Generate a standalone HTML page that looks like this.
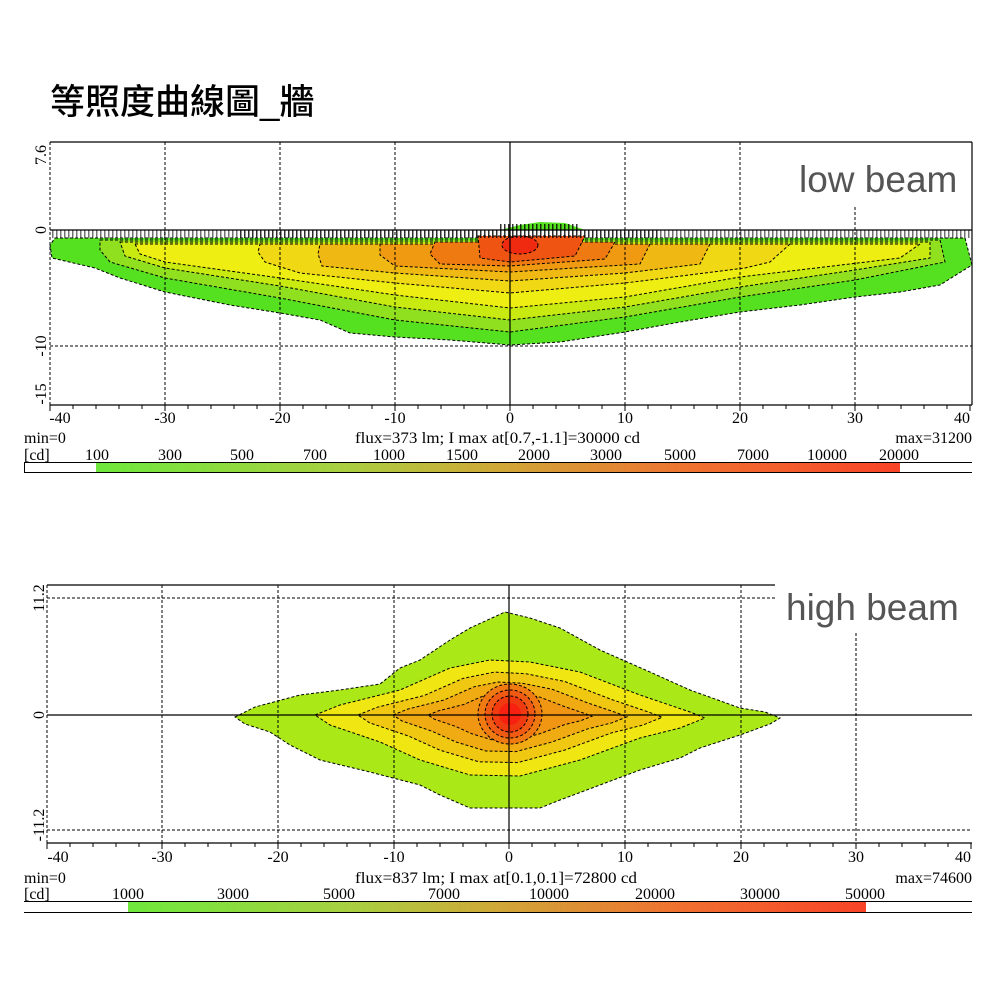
<!DOCTYPE html>
<html><head><meta charset="utf-8"><style>
html,body{margin:0;padding:0;background:#fff;width:1000px;height:1000px;overflow:hidden}
svg{display:block}
.t{font-family:"Liberation Serif",serif;font-size:16px;fill:#000}
.c{stroke:#000;stroke-width:1;stroke-dasharray:3,2;fill-rule:nonzero}
</style></head><body>
<svg width="1000" height="1000" viewBox="0 0 1000 1000" xmlns="http://www.w3.org/2000/svg">
<defs>
<linearGradient id="g1" x1="0" x2="1" y1="0" y2="0">
<stop offset="0" stop-color="#6ee83c"/><stop offset="0.3" stop-color="#a8d040"/><stop offset="0.5" stop-color="#d0a838"/><stop offset="0.75" stop-color="#f07030"/><stop offset="1" stop-color="#f84428"/>
</linearGradient>
<pattern id="hatch" width="4" height="8" patternUnits="userSpaceOnUse"><rect x="0" y="0" width="1.5" height="8" fill="#000"/></pattern>
</defs>

<text x="50" y="114" style="font-family:'Liberation Sans','Noto Sans CJK TC',sans-serif;font-size:35px;font-weight:500">等照度曲線圖_牆</text>

<!-- ===== TOP CHART ===== -->
<g>
<path class="c" fill="#55e020" d="M55,238 L965,238 L972,265 L940,285 L900,292 L855,297 L800,305 L740,312 L680,322 L625,332 L560,342 L510,345 L450,340 L395,337 L350,333 L320,320 L280,313 L230,305 L165,292 L120,278 L95,268 L52,258 L50,245 Z"/>
<path class="c" fill="#90e020" d="M100,240 L940,240 L945,262 L855,280 L740,297 L625,317 L510,332 L395,320 L280,298 L165,278 L110,262 L100,250 Z"/>
<path class="c" fill="#c8ea10" d="M120,242 L930,242 L930,258 L855,270 L740,287 L625,307 L510,320 L395,307 L280,286 L165,268 L125,256 Z"/>
<path class="c" fill="#eeee12" d="M135,244 L920,244 L900,258 L740,277 L625,297 L510,308 L395,295 L280,278 L165,262 L140,254 Z"/>
<path class="c" fill="#f0d814" d="M260,244 L790,244 L770,262 L745,268 L625,283 L510,293 L395,283 L300,273 L265,262 L258,252 Z"/>
<path class="c" fill="#f0b812" d="M320,244 L710,244 L700,264 L625,273 L510,281 L395,273 L322,266 L318,254 Z"/>
<path class="c" fill="#f09a12" d="M380,244 L650,244 L640,264 L510,272 L395,266 L380,255 Z"/>
<path class="c" fill="#f07a12" d="M435,242 L615,242 L605,259 L510,266 L440,264 L430,254 Z"/>
<path class="c" fill="#f05412" d="M478,236 L585,236 L575,256 L510,262 L480,258 Z"/>
<ellipse class="c" fill="#f02a10" cx="520" cy="245" rx="18" ry="9"/>
<path fill="#55e020" d="M500,230 L520,225 L540,222 L565,223 L585,230 Z"/>
<rect x="52" y="230" width="918" height="8" fill="url(#hatch)" opacity="0.55"/>
<rect x="240" y="230" width="420" height="8" fill="url(#hatch)" opacity="0.6"/>
<rect x="500" y="224" width="80" height="7" fill="url(#hatch)" opacity="0.8"/>
</g>
<g stroke="#000" stroke-width="1" stroke-dasharray="3,2" fill="none">
<line x1="165" y1="142" x2="165" y2="405"/><line x1="280" y1="142" x2="280" y2="405"/><line x1="395" y1="142" x2="395" y2="405"/>
<line x1="625" y1="142" x2="625" y2="405"/><line x1="740" y1="142" x2="740" y2="405"/><line x1="855" y1="207" x2="855" y2="405"/>
<line x1="50" y1="346" x2="972" y2="346"/>
<line x1="50" y1="142" x2="50" y2="405"/>
</g>
<g stroke="#000" stroke-width="1.2" fill="none">
<line x1="50" y1="142" x2="972" y2="142"/>
<line x1="972" y1="142" x2="972" y2="405"/>
<line x1="50" y1="230" x2="972" y2="230"/>
<line x1="510" y1="142" x2="510" y2="405"/>
<line x1="50" y1="405" x2="972" y2="405"/>
</g>
<g stroke="#000" stroke-width="1">
<path d="M50,405v6M73,405v4M96,405v4M119,405v4M142,405v4M165,405v6M188,405v4M211,405v4M234,405v4M257,405v4M280,405v6M303,405v4M326,405v4M349,405v4M372,405v4M395,405v6M418,405v4M441,405v4M464,405v4M487,405v4M510,405v6M533,405v4M556,405v4M579,405v4M602,405v4M625,405v6M648,405v4M671,405v4M694,405v4M717,405v4M740,405v6M763,405v4M786,405v4M809,405v4M832,405v4M855,405v6M878,405v4M901,405v4M924,405v4M947,405v4M970,405v6"/>
</g>
<text x="799" y="192" style="font-family:'Liberation Sans',sans-serif;font-size:37px;fill:#555">low beam</text>
<g class="t" text-anchor="middle">
<text x="60" y="423">-40</text><text x="165" y="423">-30</text><text x="280" y="423">-20</text><text x="395" y="423">-10</text>
<text x="510" y="423">0</text><text x="625" y="423">10</text><text x="740" y="423">20</text><text x="855" y="423">30</text><text x="962" y="423">40</text>
</g>
<g class="t" text-anchor="middle">
<text transform="translate(46,155) rotate(-90)">7.6</text>
<text transform="translate(46,230) rotate(-90)">0</text>
<text transform="translate(46,346) rotate(-90)">-10</text>
<text transform="translate(46,394) rotate(-90)">-15</text>
</g>
<text class="t" x="24" y="443">min=0</text>
<text class="t" x="355" y="443" textLength="285" lengthAdjust="spacingAndGlyphs">flux=373 lm; I max at[0.7,-1.1]=30000 cd</text>
<text class="t" x="972" y="443" text-anchor="end">max=31200</text>
<text class="t" x="24" y="460">[cd]</text>
<g class="t" text-anchor="middle">
<text x="97" y="460">100</text><text x="170" y="460">300</text><text x="242" y="460">500</text><text x="315" y="460">700</text>
<text x="389" y="460">1000</text><text x="462" y="460">1500</text><text x="534" y="460">2000</text><text x="606" y="460">3000</text>
<text x="680" y="460">5000</text><text x="753" y="460">7000</text><text x="827" y="460">10000</text><text x="899" y="460">20000</text>
</g>
<rect x="96" y="463" width="804" height="9" fill="url(#g1)"/>
<path d="M24,462.5H972M24,472.5H972M24.5,462V473" stroke="#000" fill="none"/>

<!-- ===== BOTTOM CHART ===== -->
<g>
<path class="c" fill="#aae818" d="M235,717 L255,707 L300,695 L340,690 L380,684 L400,668 L420,660 L450,640 L470,628 L505,612 L530,618 L560,628 L600,650 L650,672 L690,690 L740,708 L765,712 L780,718 L770,724 L740,735 L700,748 L680,758 L640,770 L600,785 L560,800 L540,808 L470,808 L440,795 L420,785 L370,772 L320,760 L290,745 L270,732 L245,724 Z"/>
<path class="c" fill="#f0e612" d="M315,715 L340,705 L400,690 L450,668 L490,660 L530,662 L580,672 L640,695 L690,712 L705,718 L680,728 L640,738 L580,760 L520,776 L470,775 L420,760 L380,742 L330,725 Z"/>
<g transform="translate(510,715) scale(0.78) translate(-510,-715)"><path class="c" vector-effect="non-scaling-stroke" fill="#f0c812" d="M315,715 L340,705 L400,690 L450,668 L490,660 L530,662 L580,672 L640,695 L690,712 L705,718 L680,728 L640,738 L580,760 L520,776 L470,775 L420,760 L380,742 L330,725 Z"/></g>
<g transform="translate(510,715) scale(0.6) translate(-510,-715)"><path class="c" vector-effect="non-scaling-stroke" fill="#f0aa12" d="M315,715 L340,705 L400,690 L450,668 L490,660 L530,662 L580,672 L640,695 L690,712 L705,718 L680,728 L640,738 L580,760 L520,776 L470,775 L420,760 L380,742 L330,725 Z"/></g>
<g transform="translate(510,715) scale(0.42) translate(-510,-715)"><path class="c" vector-effect="non-scaling-stroke" fill="#f09612" d="M315,715 L340,705 L400,690 L450,668 L490,660 L530,662 L580,672 L640,695 L690,712 L705,718 L680,728 L640,738 L580,760 L520,776 L470,775 L420,760 L380,742 L330,725 Z"/></g>
<ellipse class="c" fill="#f07a12" cx="510" cy="714" rx="32" ry="30"/>
<ellipse class="c" fill="#f05a12" cx="510" cy="714" rx="25" ry="24"/>
<ellipse class="c" fill="#f03a10" cx="510" cy="714" rx="18" ry="18"/>
<ellipse fill="#f82010" cx="510" cy="714" rx="11" ry="11"/>
</g>
<g stroke="#000" stroke-width="1" stroke-dasharray="3,2" fill="none">
<line x1="162" y1="585" x2="162" y2="843"/><line x1="278" y1="585" x2="278" y2="843"/><line x1="394" y1="585" x2="394" y2="843"/>
<line x1="625" y1="585" x2="625" y2="843"/><line x1="741" y1="585" x2="741" y2="843"/><line x1="856" y1="633" x2="856" y2="843"/>
<line x1="47" y1="598" x2="775" y2="598"/>
<line x1="47" y1="830" x2="972" y2="830"/>
<line x1="47" y1="585" x2="47" y2="843"/>
</g>
<g stroke="#000" stroke-width="1.2" fill="none">
<line x1="47" y1="585" x2="775" y2="585"/>
<line x1="47" y1="715" x2="972" y2="715"/>
<line x1="509" y1="585" x2="509" y2="843"/>
<line x1="47" y1="843" x2="972" y2="843"/>
</g>
<g stroke="#000" stroke-width="1">
<path d="M47,843v6M70,843v4M93,843v4M116,843v4M139,843v4M162,843v6M185,843v4M208,843v4M231,843v4M255,843v4M278,843v6M301,843v4M324,843v4M347,843v4M370,843v4M394,843v6M417,843v4M440,843v4M463,843v4M486,843v4M509,843v6M532,843v4M555,843v4M578,843v4M602,843v4M625,843v6M648,843v4M671,843v4M694,843v4M717,843v4M741,843v6M764,843v4M787,843v4M810,843v4M833,843v4M856,843v6M879,843v4M902,843v4M925,843v4M948,843v4M971,843v6"/>
</g>
<text x="786" y="620" style="font-family:'Liberation Sans',sans-serif;font-size:37px;fill:#555">high beam</text>
<g class="t" text-anchor="middle">
<text x="58" y="862">-40</text><text x="162" y="862">-30</text><text x="278" y="862">-20</text><text x="394" y="862">-10</text>
<text x="509" y="862">0</text><text x="625" y="862">10</text><text x="741" y="862">20</text><text x="856" y="862">30</text><text x="963" y="862">40</text>
</g>
<g class="t" text-anchor="middle">
<text transform="translate(44,598) rotate(-90)">11.2</text>
<text transform="translate(44,715) rotate(-90)">0</text>
<text transform="translate(44,825) rotate(-90)">-11.2</text>
</g>
<text class="t" x="24" y="883">min=0</text>
<text class="t" x="355" y="883" textLength="282" lengthAdjust="spacingAndGlyphs">flux=837 lm; I max at[0.1,0.1]=72800 cd</text>
<text class="t" x="972" y="883" text-anchor="end">max=74600</text>
<text class="t" x="24" y="899">[cd]</text>
<g class="t" text-anchor="middle">
<text x="128" y="899">1000</text><text x="233" y="899">3000</text><text x="339" y="899">5000</text><text x="444" y="899">7000</text>
<text x="549" y="899">10000</text><text x="655" y="899">20000</text><text x="760" y="899">30000</text><text x="865" y="899">50000</text>
</g>
<rect x="128" y="902" width="738" height="10" fill="url(#g1)"/>
<path d="M24,901.5H972M24,912.5H972" stroke="#000" fill="none"/>
</svg>
</body></html>
